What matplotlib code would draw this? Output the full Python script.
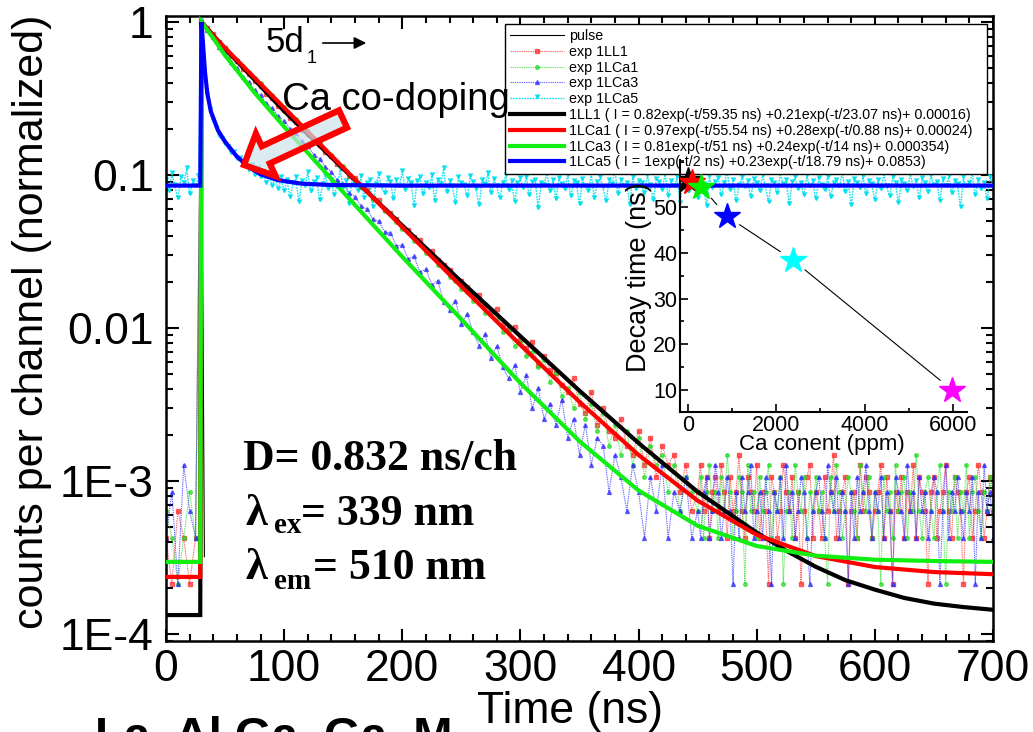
import numpy as np
import matplotlib
matplotlib.use('Agg')
import matplotlib.pyplot as plt
from matplotlib.patches import FancyArrow
from matplotlib.transforms import IdentityTransform
from matplotlib.ticker import MultipleLocator, LogLocator, NullFormatter, FixedLocator, FixedFormatter

plt.rcParams['font.family'] = ['Liberation Sans', 'DejaVu Sans']

# ---------------- data ----------------
main_dt = 5.0      # ns between plotted experimental points (0 - 445 ns)
tail_t0 = 450.0    # tail section start (ns)
tail_dt = 2.5      # ns between tail points
cyan_dt = 2.5

red_main = [2, 1, 3, 2, 1, 2,
            4700, 4310, 3910, 3480, 3170, 2840, 2600, 2330, 2150, 1930,
            1790, 1600, 1490, 1330, 1250, 1110, 1040, 930, 870, 785,
            735, 660, 625, 555, 522, 462, 447, 392, 373, 332,
            322, 276, 266, 244, 214, 206, 184, 176, 152, 150,
            130, 121, 112, 99, 96, 87, 79, 77, 66, 61,
            63, 49, 46, 48, 39, 35, 38, 27, 31, 25,
            24, 20, 18, 22, 15, 13, 18, 11, 14, 10,
            9, 12, 8, 7, 10, 6, 9, 5, 8, 6,
            7, 4, 6, 3]
red_tail = [4, 6, 3, 5, 2, 4, 5, 3, 6, 4, 2, 5, 3, 4, 7, 3, 2, 5, 4, 3,
            6, 2, 4, 3, 1, 5, 4, 2, 3, 6, 4, 3, 5, 2, 4, 1, 3, 5, 6, 2,
            4, 3, 2, 5, 3, 4, 7, 2, 3, 4, 5, 1, 3, 4, 2, 6, 3, 5, 4, 2,
            3, 4, 6, 2, 5, 3, 1, 4, 3, 5, 2, 4, 3, 6, 2, 5, 4, 3, 1, 4,
            5, 2, 3, 4, 6, 3, 2, 5, 4, 3, 1, 4, 5, 2, 3, 6, 4, 2, 3, 5, 4]

green_main = [3, 2, 1, 2, 4, 2,
              4700, 4140, 3830, 3450, 3200, 2880, 2670, 2410, 2230, 2010,
              1870, 1680, 1560, 1400, 1300, 1170, 1090, 975, 910, 815,
              760, 680, 640, 565, 535, 470, 446, 395, 372, 330,
              312, 274, 262, 232, 209, 199, 174, 166, 146, 138,
              121, 118, 101, 96, 85, 81, 71, 68, 59, 57,
              53, 44, 45, 36, 38, 31, 33, 26, 29, 21,
              24, 17, 19, 14, 18, 12, 15, 10, 13, 8,
              11, 7, 10, 6, 9, 5, 8, 6, 7, 4,
              6, 3, 5, 4]
green_tail = [3, 5, 2, 4, 6, 3, 4, 2, 5, 3, 7, 4, 2, 3, 5, 4, 1, 6, 3, 4,
              2, 5, 3, 4, 6, 2, 4, 3, 5, 1, 3, 4, 2, 6, 4, 3, 5, 2, 4, 3,
              5, 3, 4, 2, 1, 5, 3, 6, 4, 2, 3, 5, 4, 3, 2, 6, 4, 3, 5, 2,
              4, 3, 1, 5, 3, 4, 2, 6, 3, 4, 5, 2, 4, 3, 7, 3, 2, 4, 5, 3,
              2, 4, 6, 3, 1, 4, 3, 5, 2, 4, 3, 6, 2, 4, 5, 3, 2, 4, 3, 5, 3]

blue_main = [2, 4, 1, 6, 3, 2,
             4700, 4200, 3750, 3230, 2930, 2560, 2340, 2060, 1900, 1680,
             1560, 1380, 1280, 1140, 1060, 945, 880, 780, 730, 640,
             600, 530, 495, 435, 410, 360, 340, 296, 282, 242,
             234, 200, 196, 162, 164, 133, 138, 109, 114, 90,
             96, 70, 62, 71, 50, 58, 44, 36, 43, 30,
             36, 26, 22, 27, 18, 23, 14, 19, 12, 15,
             11, 16, 9, 12, 7, 11, 6, 9, 8, 4,
             7, 5, 3, 6, 4, 2, 5, 3, 6, 2,
             4, 3, 5, 2]
blue_tail = [3, 2, 4, 5, 2, 3, 6, 4, 2, 3, 5, 3, 1, 4, 2, 5, 3, 4, 6, 2,
             3, 4, 2, 5, 3, 1, 4, 3, 5, 2, 6, 3, 4, 2, 3, 5, 4, 2, 1, 3,
             4, 5, 3, 2, 6, 4, 3, 5, 2, 4, 3, 1, 4, 2, 5, 3, 4, 6, 3, 2,
             4, 3, 5, 2, 4, 3, 1, 5, 4, 3, 2, 6, 3, 4, 2, 5, 3, 4, 2, 3,
             5, 4, 1, 3, 6, 2, 4, 3, 5, 3, 2, 4, 3, 5, 1, 4, 2, 6, 3, 4, 2]

cyan_counts = [92, 78, 101, 85, 70, 96, 88, 109, 74, 90, 83, 97,
               1000, 480, 330, 262, 222, 200, 178, 170, 158, 150, 138, 140, 126, 128,
               115, 122, 106, 114, 98, 110, 95, 104, 88, 100, 84, 97, 80, 95, 78,
               92, 71, 88, 95, 66, 90, 84, 103, 77, 89, 94, 68, 86, 99, 80, 91, 73, 87, 108, 82,
               90, 64, 93, 85, 78, 97, 70, 88, 92, 61, 86, 100, 83, 75, 94, 89, 69, 91, 84, 105,
               79, 93, 87, 62, 90, 96, 74, 88, 81, 99, 67, 92, 86, 110, 76, 90, 83, 65, 95, 88,
               85, 72, 97, 89, 80, 63, 91, 86, 102, 75, 93, 84, 70, 88, 98, 79, 90, 66, 87, 94,
               81, 96, 73, 89, 92, 60, 88, 85, 104, 77, 91, 69, 94, 86, 80, 99, 72, 90, 87, 64,
               93, 84, 78, 101, 70, 89, 95, 82, 67, 91, 86, 107, 74, 92, 83, 88, 63, 96, 80, 90,
               87, 75, 98, 85, 68, 93, 89, 79, 103, 72, 90, 84, 95, 65, 88, 91, 77, 100, 83, 70,
               92, 86, 62, 97, 81, 89, 94, 73, 88, 106, 79, 91, 67, 85, 96, 82, 90, 71, 93, 87,
               78, 99, 84, 66, 92, 88, 75, 102, 86, 91, 64, 89, 95, 80, 87, 73, 98, 83, 90, 69,
               94, 85, 79, 96, 71, 88, 92, 83, 105, 76, 89, 63, 93, 87, 81, 97, 74, 90, 86, 68,
               91, 80, 100, 84, 72, 95, 88, 65, 92, 86, 78, 103, 82, 90, 70, 94, 87, 76, 99, 85,
               89, 67, 93, 84, 97, 75, 90, 86, 61, 95, 83, 88, 101, 73, 92, 80, 87, 69, 96, 88]

pulse_t = [30.0, 31.0, 32.5]
pulse_v = [1.0, 0.03, 3.2e-4]

fit_1LL1_t = [0, 29, 30, 50, 100, 150, 200, 250, 300, 350, 400, 450, 500, 525, 550, 575, 600, 625, 650, 675, 700]
fit_1LL1_v = [1.33e-4, 1.33e-4, 1.0, 0.67, 0.262, 0.110, 0.0467, 0.0201, 0.00883, 0.00389, 0.00177,
              8.5e-4, 4.6e-4, 3.5e-4, 2.75e-4, 2.25e-4, 1.95e-4, 1.72e-4, 1.58e-4, 1.5e-4, 1.44e-4]

fit_1LCa1_t = [0, 29, 30, 40, 50, 75, 100, 150, 200, 250, 300, 350, 400, 450, 500, 550, 600, 650, 700]
fit_1LCa1_v = [2.36e-4, 2.36e-4, 1.0, 0.81, 0.677, 0.431, 0.275, 0.1118, 0.0457, 0.0187, 0.00775,
               0.00329, 0.00148, 7.44e-4, 4.45e-4, 3.23e-4, 2.74e-4, 2.54e-4, 2.46e-4]

fit_1LCa3_t = [0, 29, 30, 40, 50, 75, 100, 150, 200, 250, 300, 350, 400, 450, 500, 550, 600, 650, 700]
fit_1LCa3_v = [2.96e-4, 2.96e-4, 1.0, 0.783, 0.605, 0.345, 0.207, 0.0773, 0.0292, 0.0114, 0.00437,
               0.00182, 8.67e-4, 5.1e-4, 3.76e-4, 3.25e-4, 3.06e-4, 3.0e-4, 2.96e-4]

fit_1LCa5_t = [0, 29, 30, 31, 33, 35, 38, 44, 50, 60, 70, 80, 95, 115, 140, 200, 700]
fit_1LCa5_v = [0.0853, 0.0853, 1.0, 0.78, 0.47, 0.34, 0.26, 0.196, 0.165, 0.132, 0.113, 0.101,
               0.0925, 0.0878, 0.086, 0.0853, 0.0853]

fit_labels = ['1LL1 ( I = 0.82exp(-t/59.35 ns) +0.21exp(-t/23.07 ns)+ 0.00016)',
              '1LCa1 ( I = 0.97exp(-t/55.54 ns) +0.28exp(-t/0.88 ns)+ 0.00024)',
              '1LCa3 ( I = 0.81exp(-t/51 ns) +0.24exp(-t/14 ns)+ 0.000354)',
              '1LCa5 ( I = 1exp(-t/2 ns) +0.23exp(-t/18.79 ns)+ 0.0853)']

ca_ppm = [0, 100, 300, 880, 2380, 5980]
decay_ns = [56.0, 55.5, 54.5, 48.0, 38.4, 10.0]
star_colors = ['black', 'red', '#00ee00', 'blue', 'cyan', 'magenta']

y_ticks = [1e-4, 1e-3, 1e-2, 0.1, 1]
y_ticklabels = ['1E-4', '1E-3', '0.01', '0.1', '1']

# ---------------- figure ----------------
W, H = 1033, 732
fig = plt.figure(figsize=(W / 100, H / 100), dpi=100)
ax = fig.add_axes([166 / W, 1 - 641 / H, (993 - 166) / W, (641 - 16) / H])


def series(main, tail):
    t = np.concatenate([main_dt * np.arange(len(main)), tail_t0 + tail_dt * np.arange(len(tail))])
    c = np.asarray(main + tail, dtype=float)
    return t, c / c.max()


dots = (0, (1.2, 0.8))
t, v = series(red_main, red_tail)
h_red, = ax.plot(t, v, color='#ff2a2a', lw=0.8, ls=dots, marker='s', ms=2.8,
                 alpha=0.7, label='exp 1LL1', zorder=2)
t, v = series(green_main, green_tail)
h_green, = ax.plot(t, v, color='#22dd22', lw=0.8, ls=dots, marker='o', ms=2.6,
                   alpha=0.7, label='exp 1LCa1', zorder=2)
t, v = series(blue_main, blue_tail)
h_blue, = ax.plot(t, v, color='#2a2aff', lw=0.8, ls=dots, marker='^', ms=2.8,
                  alpha=0.7, label='exp 1LCa3', zorder=2)
cy = np.asarray(cyan_counts, dtype=float)
h_cyan, = ax.plot(cyan_dt * np.arange(len(cy)), cy / cy.max(), color='#00e0f0', lw=1.0, ls=dots,
                  marker=7, ms=3.4, alpha=0.95, label='exp 1LCa5', zorder=1.9)
h_pulse, = ax.plot(pulse_t, pulse_v, color='black', lw=0.8, label='pulse', zorder=2.5)

fits = []
for (ft, fv, col) in [(fit_1LL1_t, fit_1LL1_v, 'black'), (fit_1LCa1_t, fit_1LCa1_v, '#ff0000'),
                      (fit_1LCa3_t, fit_1LCa3_v, '#11ee11'), (fit_1LCa5_t, fit_1LCa5_v, '#0000ff')]:
    h, = ax.plot(ft, fv, color=col, lw=3.0, zorder=3, solid_joinstyle='miter')
    fits.append(h)

ax.set_yscale('log')
ax.set_xlim(0, 700)
ax.set_ylim(9.0e-5, 1.095)
ax.yaxis.set_major_locator(FixedLocator(y_ticks))
ax.yaxis.set_major_formatter(FixedFormatter(y_ticklabels))
ax.yaxis.set_minor_locator(LogLocator(base=10, subs=np.arange(2, 10)))
ax.yaxis.set_minor_formatter(NullFormatter())
ax.xaxis.set_major_locator(MultipleLocator(100))
ax.xaxis.set_minor_locator(MultipleLocator(20))
ax.tick_params(which='both', direction='in', top=True, right=True, width=1.5)
ax.tick_params(which='major', length=9)
ax.tick_params(which='minor', length=5)
ax.tick_params(axis='y', which='major', labelsize=32, pad=9)
ax.tick_params(axis='x', which='major', labelsize=32, pad=6)
for s in ax.spines.values():
    s.set_linewidth(1.8)

xl = ax.set_xlabel('Time (ns)', fontsize=32)
ax.xaxis.set_label_coords((570 - 166) / 827, (641 - 712) / 625)
xl.set_va('center')
yl = ax.set_ylabel('counts per channel (normalized)', fontsize=31)
ax.yaxis.set_label_coords((32 - 166) / 827, (641 - 322) / 625)
yl.set_va('center')
yl.set_ha('center')

handles = [h_pulse, h_red, h_green, h_blue, h_cyan] + fits
labels = ['pulse', 'exp 1LL1', 'exp 1LCa1', 'exp 1LCa3', 'exp 1LCa5'] + fit_labels
leg = ax.legend(handles, labels, loc='upper left',
                bbox_to_anchor=(505 / W, 1 - 173 / H, (987 - 505) / W, (173 - 24) / H),
                bbox_transform=fig.transFigure, mode='expand', fontsize=10.3, frameon=True,
                fancybox=False, edgecolor='black', framealpha=1, borderpad=0.35,
                labelspacing=0.125, handlelength=3.8, handletextpad=0.3, borderaxespad=0)
leg.get_frame().set_linewidth(1.0)
leg.set_zorder(10)

# ---------------- annotations ----------------
fig.text(266 / W, 1 - 52 / H, '5d', fontsize=25, va='baseline')
fig.text(307 / W, 1 - 63 / H, '1', fontsize=13, va='baseline')
ax.annotate('', xy=(369, H - 43), xytext=(320, H - 43), xycoords='figure pixels',
            textcoords='figure pixels',
            arrowprops=dict(arrowstyle='-|>', lw=1.2, color='black', mutation_scale=18))

fig.text(282 / W, 1 - 110 / H, 'Ca co-doping', fontsize=27.5, va='baseline')

arr = FancyArrow(343, H - 119, -99, -46, width=19, head_width=47, head_length=24,
                 length_includes_head=True, facecolor=(0.80, 0.89, 0.92, 0.7),
                 edgecolor='#ff0000', linewidth=4.5, joinstyle='miter')
arr.set_transform(IdentityTransform())
arr.set_zorder(6)
fig.add_artist(arr)

serif = dict(fontfamily=['Liberation Serif', 'DejaVu Serif'], fontweight='bold', va='baseline')
fig.text(243 / W, 1 - 470 / H, 'D= 0.832 ns/ch', fontsize=31.5, **serif)
fig.text(246 / W, 1 - 525 / H, 'λ', fontsize=32, **serif)
fig.text(274 / W, 1 - 533 / H, 'ex', fontsize=21, **serif)
fig.text(301 / W, 1 - 525 / H, '= 339 nm', fontsize=31.5, **serif)
fig.text(246 / W, 1 - 579 / H, 'λ', fontsize=32, **serif)
fig.text(274 / W, 1 - 589 / H, 'em', fontsize=21, **serif)
fig.text(313 / W, 1 - 579 / H, '= 510 nm', fontsize=31.5, **serif)

# cut-off caption at the bottom edge
fig.text(95 / W, 1 - 750 / H, 'La  Al Ga  Ga  M', fontsize=34, fontweight='bold', va='baseline')

# ---------------- inset ----------------
ins = fig.add_axes([680 / W, 1 - 412 / H, (967 - 680) / W, (412 - 160) / H])
ins.set_facecolor('none')
ins.set_xlim(-181, 6317)
ins.set_ylim(5.19, 60.3)
ins.spines['top'].set_visible(False)
ins.spines['right'].set_visible(False)
for s in ('left', 'bottom'):
    ins.spines[s].set_linewidth(1.5)
ins.xaxis.set_major_locator(MultipleLocator(2000))
ins.xaxis.set_minor_locator(MultipleLocator(1000))
ins.yaxis.set_major_locator(FixedLocator([10, 20, 30, 40, 50]))
ins.yaxis.set_major_formatter(FixedFormatter(['10', '20', '30', '40', '50']))
ins.yaxis.set_minor_locator(MultipleLocator(5))
ins.tick_params(which='both', direction='in', width=1.2, labelsize=15.5, pad=2)
ins.tick_params(which='major', length=6)
ins.tick_params(which='minor', length=3)
for i in range(len(ca_ppm) - 1):
    ins.annotate('', xy=(ca_ppm[i + 1], decay_ns[i + 1]), xytext=(ca_ppm[i], decay_ns[i]),
                 arrowprops=dict(arrowstyle='-', lw=0.8, color='black', shrinkA=11, shrinkB=11))
for x, y, c in zip(ca_ppm, decay_ns, star_colors):
    ins.plot([x], [y], marker='*', ms=19, color=c, ls='none', mec=c, zorder=4)
ixl = ins.set_xlabel('Ca conent (ppm)', fontsize=16)
ins.xaxis.set_label_coords((822 - 680) / 287, (412 - 445) / 252)
ixl.set_va('center')
iyl = ins.set_ylabel('Decay time (ns)', fontsize=19.5)
ins.yaxis.set_label_coords((639 - 680) / 287, (412 - 277) / 252)
iyl.set_va('center')
iyl.set_ha('center')

fig.savefig('out.png', dpi=100)
